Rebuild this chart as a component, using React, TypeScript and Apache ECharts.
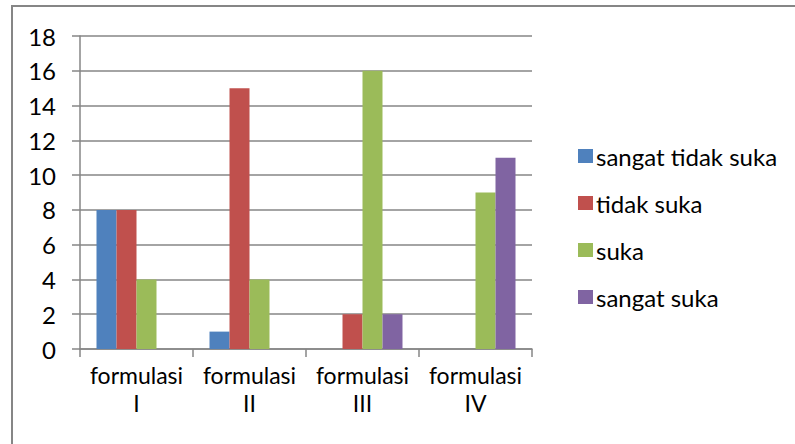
import React, { useEffect, useRef } from "react";
import * as echarts from "echarts";

const categories = ["formulasi\nI", "formulasi\nII", "formulasi\nIII", "formulasi\nIV"];
const seriesNames = ["sangat tidak suka", "tidak suka", "suka", "sangat suka"];
const sangatTidakSuka = [8, 1, 0, 0];
const tidakSuka = [8, 15, 2, 0];
const suka = [4, 4, 16, 9];
const sangatSuka = [0, 0, 2, 11];
const colors = ["#4F81BD", "#C0504D", "#9BBB59", "#8064A2"];

export default function App() {
  const ref = useRef<HTMLDivElement>(null);
  useEffect(() => {
    if (!ref.current) return;
    const chart = echarts.init(ref.current, null, { renderer: "svg" });
    const font = "Lato, 'Open Sans', sans-serif";
    const data = [sangatTidakSuka, tidakSuka, suka, sangatSuka];
    chart.setOption({
      animation: false,
      backgroundColor: "#ffffff",
      textStyle: { fontFamily: font },
      grid: { left: 80, right: 263, top: 36, bottom: 95 },
      legend: {
        orient: "vertical",
        left: 573,
        top: 139,
        itemWidth: 15,
        itemHeight: 14,
        itemGap: 23,
        icon: "rect",
        data: seriesNames,
        textStyle: { fontSize: 24, color: "#000", fontFamily: font, padding: [0, 0, 0, -2] },
      },
      xAxis: {
        type: "category",
        data: categories,
        axisLine: { lineStyle: { color: "#868686", width: 1.5 } },
        axisTick: { show: true, length: 8, lineStyle: { color: "#868686", width: 1.5 } },
        axisLabel: { interval: 0, fontSize: 23, color: "#000", lineHeight: 28, margin: 12, fontFamily: font },
      },
      yAxis: {
        type: "value",
        min: 0,
        max: 18,
        interval: 2,
        axisLine: { show: true, lineStyle: { color: "#868686", width: 1.5 } },
        axisTick: { show: true, length: 8, lineStyle: { color: "#868686", width: 1.5 } },
        splitLine: { lineStyle: { color: "#868686", width: 1.5 } },
        axisLabel: { fontSize: 24, color: "#000", margin: 24, fontFamily: font },
      },
      series: seriesNames.map((name, i) => ({
        name,
        type: "bar",
        data: data[i],
        barWidth: 20,
        barGap: "0%",
        itemStyle: { color: colors[i] },
      })),
      graphic: [
        {
          type: "rect",
          shape: { x: 12, y: 6, width: 800, height: 460 },
          style: { fill: "none", stroke: "#868686", lineWidth: 2 },
          silent: true,
        },
      ],
    });
    return () => chart.dispose();
  }, []);
  return <div ref={ref} style={{ width: 795, height: 444, position: "absolute", left: 0, top: 0 }} />;
}
